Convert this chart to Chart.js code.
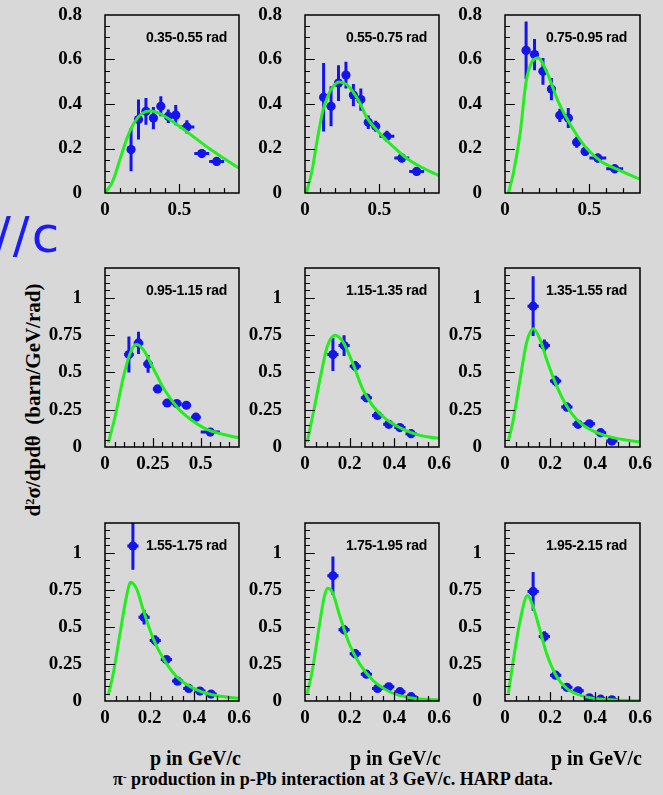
<!DOCTYPE html>
<html lang="en">
<head>
<meta charset="UTF-8">
<title>HARP: pi- production in p-Pb at 3 GeV/c</title>
<script src="https://cdn.jsdelivr.net/npm/chart.js"></script>
<style>
    body {
        margin: 0;
        width: 663px;
        height: 795px;
        overflow: hidden;
        position: relative;
        background: #d8d8d8;
    }
    canvas { position: absolute; }
    .tag {
        position: absolute;
        font: bold 14px "Liberation Sans", Arial, sans-serif;
        letter-spacing: -0.3px;
        white-space: nowrap;
        line-height: 1;
        transform: translateY(-50%);
    }
    .serif {
        position: absolute;
        font-family: "Liberation Serif", "Times New Roman", serif;
        font-weight: bold;
        white-space: pre;
        line-height: 1;
    }
    .pax { font-size: 20px; transform: translate(-100%, -50%); }
    #title { font-size: 18px; left: 113px; top: 779px; transform: translateY(-50%); }
    #ytitle { font-size: 21px; left: 33px; top: 400px; transform: translate(-50%, -50%) rotate(-90deg); }
    #scribble {
        position: absolute;
        left: -6px;
        top: 210px;
        font: 50px "DejaVu Sans", sans-serif;
        color: #1a1aff;
        letter-spacing: 2px;
        line-height: 1;
    }
    sup { font-size: 60%; vertical-align: 0.45em; line-height: 0; }
</style>
</head>
<body>
<div id="scribble">//c</div>
<div id="ytitle" class="serif">d<sup>2</sup>σ/dpdθ  (barn/GeV/rad)</div>
<div id="title" class="serif">π<sup>-</sup> production in p-Pb interaction at 3 GeV/c. HARP data.</div>

<script>
// momentum bins (GeV/c)
const binCenters = [0.125, 0.175, 0.225, 0.275, 0.325, 0.375, 0.425, 0.475, 0.55, 0.65, 0.75];
const binHalfWidths = [0.025, 0.025, 0.025, 0.025, 0.025, 0.025, 0.025, 0.025, 0.05, 0.05, 0.05];

const angleLabels = ['0.35-0.55 rad', '0.55-0.75 rad', '0.75-0.95 rad',
                     '0.95-1.15 rad', '1.15-1.35 rad', '1.35-1.55 rad',
                     '1.55-1.75 rad', '1.75-1.95 rad', '1.95-2.15 rad'];

// measured d2sigma/dpdtheta per angle bin (null = no point)
const xsec1 = [null, 0.195, 0.33, 0.367, 0.337, 0.39, 0.345, 0.35, 0.297, 0.177, 0.142];
const err1  = [null, 0.097, 0.09, 0.06, 0.05, 0.045, 0.03, 0.045, 0.03, 0.02, 0.02];
const xsec2 = [0.43, 0.39, 0.494, 0.53, 0.44, 0.42, 0.318, 0.3, 0.255, 0.157, 0.097];
const err2  = [0.154, 0.09, 0.08, 0.06, 0.05, 0.05, 0.03, 0.025, 0.025, 0.02, 0.02];
const xsec3 = [0.641, 0.622, 0.547, 0.467, 0.349, 0.337, 0.228, 0.187, 0.157, 0.109, null];
const err3  = [0.13, 0.07, 0.06, 0.05, 0.03, 0.045, 0.025, 0.02, 0.02, 0.02, null];
const xsec4 = [0.62, 0.698, 0.557, 0.389, 0.295, 0.291, 0.28, 0.2, 0.1];
const err4  = [0.12, 0.075, 0.06, 0.02, 0.02, 0.02, 0.02, 0.02, 0.015];
const xsec5 = [0.62, 0.68, 0.542, 0.33, 0.212, 0.152, 0.13, 0.089];
const err5  = [0.11, 0.07, 0.035, 0.02, 0.02, 0.02, 0.02, 0.02];
const xsec6 = [0.944, 0.68, 0.442, 0.268, 0.152, 0.156, 0.096, 0.04];
const err6  = [0.2, 0.04, 0.035, 0.03, 0.02, 0.02, 0.02, 0.02];
const xsec7 = [1.045, 0.565, 0.408, 0.279, 0.134, 0.085, 0.067, 0.047];
const err7  = [0.16, 0.05, 0.035, 0.025, 0.02, 0.02, 0.02, 0.02];
const xsec8 = [0.844, 0.48, 0.319, 0.181, 0.085, 0.096, 0.063, 0.029];
const err8  = [0.13, 0.03, 0.03, 0.025, 0.02, 0.02, 0.02, 0.02];
const xsec9 = [0.739, 0.435, 0.174, 0.092, 0.069, 0.022, 0.012, 0.008];
const err9  = [0.13, 0.035, 0.025, 0.02, 0.02, 0.015, 0.01, 0.01];

// green model curves
const curveX1 = [0, 0.05, 0.1, 0.15, 0.2, 0.25, 0.3, 0.35, 0.4, 0.5, 0.6, 0.7, 0.8, 0.9];
const curveY1 = [0, 0.05, 0.15, 0.25, 0.32, 0.358, 0.368, 0.362, 0.345, 0.3, 0.25, 0.2, 0.155, 0.112];
const curveX2 = [0.01, 0.05, 0.08, 0.12, 0.15, 0.19, 0.23, 0.28, 0.32, 0.37, 0.41, 0.5, 0.59, 0.68, 0.77, 0.9];
const curveY2 = [0, 0.11, 0.23, 0.37, 0.43, 0.48, 0.499, 0.487, 0.457, 0.404, 0.345, 0.27, 0.21, 0.157, 0.12, 0.078];
const curveX3 = [0.02, 0.05, 0.09, 0.125, 0.16, 0.195, 0.25, 0.31, 0.37, 0.43, 0.49, 0.57, 0.67, 0.8];
const curveY3 = [0, 0.09, 0.27, 0.5, 0.59, 0.607, 0.54, 0.42, 0.33, 0.255, 0.195, 0.142, 0.105, 0.062];
const curveX4 = [0.018, 0.053, 0.097, 0.132, 0.163, 0.2, 0.255, 0.31, 0.38, 0.45, 0.536, 0.66, 0.7];
const curveY4 = [0.03, 0.206, 0.474, 0.63, 0.687, 0.653, 0.52, 0.385, 0.262, 0.183, 0.116, 0.072, 0.062];
const curveX5 = [0.01, 0.04, 0.07, 0.1, 0.135, 0.168, 0.213, 0.259, 0.304, 0.364, 0.44, 0.514, 0.6];
const curveY5 = [0.033, 0.25, 0.475, 0.676, 0.75, 0.71, 0.565, 0.386, 0.275, 0.185, 0.118, 0.078, 0.058];
const curveX6 = [0.015, 0.037, 0.067, 0.096, 0.126, 0.156, 0.185, 0.23, 0.274, 0.333, 0.393, 0.48, 0.6];
const curveY6 = [0.04, 0.185, 0.453, 0.7, 0.792, 0.72, 0.587, 0.408, 0.275, 0.163, 0.107, 0.063, 0.033];
const curveX7 = [0.015, 0.037, 0.067, 0.097, 0.115, 0.142, 0.172, 0.216, 0.261, 0.321, 0.396, 0.485, 0.6];
const curveY7 = [0.04, 0.185, 0.453, 0.71, 0.8, 0.754, 0.61, 0.42, 0.286, 0.163, 0.085, 0.04, 0.018];
const curveX8 = [0.01, 0.033, 0.063, 0.086, 0.1, 0.123, 0.153, 0.198, 0.244, 0.304, 0.379, 0.469, 0.6];
const curveY8 = [0.05, 0.207, 0.498, 0.7, 0.76, 0.732, 0.587, 0.386, 0.252, 0.14, 0.0625, 0.022, 0.007];
const curveX9 = [0.015, 0.037, 0.067, 0.1, 0.126, 0.156, 0.185, 0.23, 0.274, 0.333, 0.422, 0.6];
const curveY9 = [0.05, 0.275, 0.54, 0.712, 0.63, 0.475, 0.32, 0.163, 0.085, 0.04, 0.013, 0.002];

// axis tick labels
const xTicksWide = [0, 0.5];
const xTicksMid = [0, 0.25, 0.5];
const xTicksNarrow = [0, 0.2, 0.4, 0.6];
const yTicksLow = [0, 0.2, 0.4, 0.6, 0.8];
const yTicksHigh = [0, 0.25, 0.5, 0.75, 1];

const xsecs = [xsec1, xsec2, xsec3, xsec4, xsec5, xsec6, xsec7, xsec8, xsec9];
const errs = [err1, err2, err3, err4, err5, err6, err7, err8, err9];
const curvesX = [curveX1, curveX2, curveX3, curveX4, curveX5, curveX6, curveX7, curveX8, curveX9];
const curvesY = [curveY1, curveY2, curveY3, curveY4, curveY5, curveY6, curveY7, curveY8, curveY9];

// axis ranges per panel
const xMaxes = [0.9, 0.9, 0.8, 0.7, 0.6, 0.6, 0.6, 0.6, 0.6];
const xTickSets = [xTicksWide, xTicksWide, xTicksWide, xTicksMid, xTicksNarrow, xTicksNarrow, xTicksNarrow, xTicksNarrow, xTicksNarrow];
const xMinorSteps = [0.1, 0.1, 0.1, 0.05, 0.05, 0.05, 0.05, 0.05, 0.05];

// ---- layout (pixels) ----
const BLUE = '#1414ee';
const GREEN = '#22ee1e';
const colLeft = [105, 305, 505];
const colWidth = [134, 134, 135];
const rowTop = [15, 268, 523];
const rowHeight = [178, 179, 178];
const PAD_L = 100, PAD_R = 18, PAD_T = 14, PAD_B = 30;
const tickFont = { family: '"Liberation Serif", "Times New Roman", serif', size: 19, weight: 'bold' };

const hepFrame = {
    id: 'hepFrame',
    beforeDatasetsDraw(chart) {
        const { ctx, chartArea: a, scales: { x, y } } = chart;
        ctx.save();
        ctx.beginPath();
        ctx.rect(a.left, a.top, a.width, a.height);
        ctx.clip();
        ctx.strokeStyle = BLUE;
        ctx.lineWidth = 3;
        chart.data.datasets[1].data.forEach(p => {
            const px = x.getPixelForValue(p.x), py = y.getPixelForValue(p.y);
            ctx.beginPath();
            ctx.moveTo(px, y.getPixelForValue(p.y - p.ey));
            ctx.lineTo(px, y.getPixelForValue(p.y + p.ey));
            ctx.moveTo(x.getPixelForValue(p.x - p.ex), py);
            ctx.lineTo(x.getPixelForValue(p.x + p.ex), py);
            ctx.stroke();
        });
        ctx.restore();
    },
    afterDraw(chart, args, opts) {
        const { ctx, chartArea: a, scales: { x, y } } = chart;
        const isMajor = (v, list) => list.some(t => Math.abs(t - v) < 1e-6);
        ctx.save();
        ctx.strokeStyle = '#000';
        ctx.lineWidth = 1.2;
        ctx.beginPath();
        for (let k = 1; k * opts.yMinor < y.max - 1e-6; k++) {
            const v = k * opts.yMinor, py = Math.round(y.getPixelForValue(v)) + 0.5;
            ctx.moveTo(a.left, py);
            ctx.lineTo(a.left + (isMajor(v, opts.yMajor) ? 10 : 5), py);
        }
        for (let k = 1; k * opts.xMinor < x.max - 1e-6; k++) {
            const v = k * opts.xMinor, px = Math.round(x.getPixelForValue(v)) + 0.5;
            ctx.moveTo(px, a.bottom);
            ctx.lineTo(px, a.bottom - (isMajor(v, opts.xMajor) ? 9 : 5));
        }
        ctx.stroke();
        ctx.lineWidth = 1.5;
        ctx.strokeRect(a.left, a.top, a.width, a.height);
        ctx.restore();
    }
};

for (let i = 0; i < 9; i++) {
    const col = i % 3, row = Math.floor(i / 3);
    const w = colWidth[col], h = rowHeight[row];
    const yMax = row === 0 ? 0.8 : 1.2;
    const yTicks = row === 0 ? yTicksLow : yTicksHigh;

    const cv = document.createElement('canvas');
    cv.width = w + PAD_L + PAD_R;
    cv.height = h + PAD_T + PAD_B;
    cv.style.left = (colLeft[col] - PAD_L) + 'px';
    cv.style.top = (rowTop[row] - PAD_T) + 'px';
    document.body.appendChild(cv);

    const points = [];
    xsecs[i].forEach((v, k) => {
        if (v !== null) points.push({ x: binCenters[k], y: v, ex: binHalfWidths[k], ey: errs[i][k] });
    });
    const curve = curvesX[i].map((v, k) => ({ x: v, y: curvesY[i][k] }));

    new Chart(cv, {
        type: 'scatter',
        data: {
            datasets: [
                { data: curve, showLine: true, borderColor: GREEN, borderWidth: 3, pointRadius: 0,
                  cubicInterpolationMode: 'monotone', order: 0 },
                { data: points, pointRadius: 4.6, pointBackgroundColor: BLUE, pointBorderWidth: 0, order: 1 }
            ]
        },
        options: {
            responsive: false,
            animation: false,
            devicePixelRatio: 1,
            events: [],
            layout: { padding: { top: PAD_T, right: PAD_R, left: 0, bottom: 0 } },
            plugins: {
                legend: { display: false },
                tooltip: { enabled: false },
                hepFrame: { xMinor: xMinorSteps[i], xMajor: xTickSets[i], yMinor: 0.05, yMajor: yTicks }
            },
            scales: {
                x: {
                    type: 'linear', min: 0, max: xMaxes[i],
                    grid: { display: false, drawTicks: false },
                    border: { display: false },
                    afterBuildTicks: s => { s.ticks = xTickSets[i].map(v => ({ value: v })); },
                    afterFit: s => { s.height = PAD_B; s.paddingLeft = 0; s.paddingRight = 0; },
                    ticks: { font: tickFont, color: '#000', padding: 6, maxRotation: 0, minRotation: 0,
                             autoSkip: false, callback: v => String(v) }
                },
                y: {
                    type: 'linear', min: 0, max: yMax,
                    grid: { display: false, drawTicks: false },
                    border: { display: false },
                    afterBuildTicks: s => { s.ticks = yTicks.map(v => ({ value: v })); },
                    afterFit: s => { s.width = PAD_L; s.paddingTop = 0; s.paddingBottom = 0; },
                    ticks: { font: tickFont, color: '#000', padding: 23, autoSkip: false,
                             callback: v => String(v) }
                }
            }
        },
        plugins: [hepFrame]
    });

    const tag = document.createElement('div');
    tag.className = 'tag';
    tag.textContent = angleLabels[i];
    tag.style.left = (colLeft[col] + 41) + 'px';
    tag.style.top = (rowTop[row] + 22) + 'px';
    document.body.appendChild(tag);

    if (row === 2) {
        const ax = document.createElement('div');
        ax.className = 'serif pax';
        ax.textContent = 'p in GeV/c';
        ax.style.left = (colLeft[col] + w + 2) + 'px';
        ax.style.top = '758px';
        document.body.appendChild(ax);
    }
}
</script>
</body>
</html>
